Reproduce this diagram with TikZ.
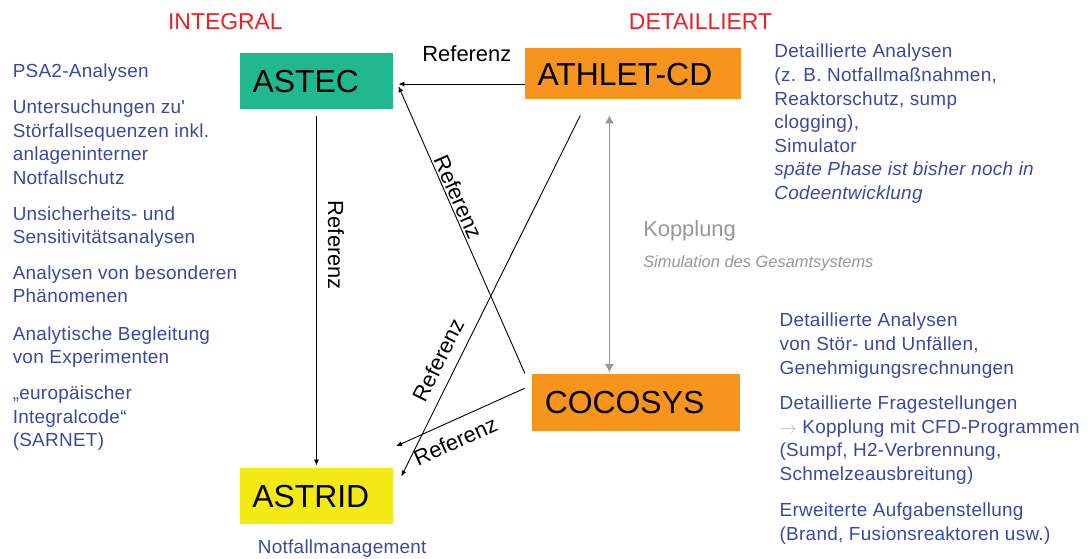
\documentclass[tikz,border=0pt]{standalone}
\usepackage{fontspec}
\setmainfont{Liberation Sans}
\newfontfamily\blaufont{Liberation Sans}[LetterSpace=1.5]
\usepackage{xcolor}
\usepackage{tikz}
\usetikzlibrary{arrows.meta, positioning}

\definecolor{astecgruen}{RGB}{34,184,143}
\definecolor{codeorange}{RGB}{247,148,30}
\definecolor{astridgelb}{RGB}{242,234,18}
\definecolor{titelrot}{RGB}{240,30,35}
\definecolor{textblau}{RGB}{58,72,162}
\definecolor{pfeilblau}{RGB}{170,176,215}
\definecolor{kopplgrau}{RGB}{150,150,150}

\begin{document}
\begin{tikzpicture}[x=1bp,y=-1bp,->,>={Latex[length=6bp,width=5bp]},line width=0.9bp,
    codebox/.style={inner xsep=12.5bp, inner ysep=0bp, align=left,
      font=\fontsize{32}{38}\selectfont, text height=23bp, text depth=0bp},
    titel/.style={text=titelrot, font=\fontsize{23}{27}\selectfont, anchor=base, inner sep=0bp},
    blau/.style={text=textblau, font=\blaufont\fontsize{19}{23.7}\selectfont, align=left,
      anchor=base west, inner sep=0bp},
    reftext/.style={font=\fontsize{22}{26}\selectfont, text=black, inner sep=2bp}]
\useasboundingbox (0,0) rectangle (1089,559);

\node[codebox, fill=astecgruen, text width=128bp, minimum height=55.7bp] (astec) at (316.5,81.2) {ASTEC};
\node[codebox, fill=codeorange, text width=191bp, minimum height=51bp] (athlet) at (633,73.8) {ATHLET-CD};
\node[codebox, fill=codeorange, text width=182.7bp, minimum height=56.7bp] (cocosys) at (636.2,402.3) {COCOSYS};
\node[codebox, fill=astridgelb, text width=128.3bp, minimum height=56.6bp, below=357.7bp of astec] (astrid) {ASTRID};

\node[titel] (integral) at (225.4,29.3) {INTEGRAL};
\node[titel] (detailliert) at (700.5,29.3) {DETAILLIERT};

\node[blau] (psa) at (12.3,77.3) {PSA2-Analysen};
\node[blau] (stoerfall) at (12.3,184.4) {Untersuchungen zu'\\Störfallsequenzen inkl.\\anlageninterner\\Notfallschutz};
\node[blau] (unsicher) at (12.3,243.7) {Unsicherheits- und\\Sensitivitätsanalysen};
\node[blau] (phaenomen) at (12.3,302.7) {Analysen von besonderen\\Phänomenen};
\node[blau] (experiment) at (12.3,363.7) {Analytische Begleitung\\von Experimenten};
\node[blau] (sarnet) at (12.3,446.7) {„europäischer\\Integralcode“\\(SARNET)};
\node[blau, below=14.8bp of astrid, xshift=25.7bp] (notfall) {Notfallmanagement};

\node[blau] (athlettext) at (774,199.5) {Detaillierte Analysen\\(z. B. Notfallmaßnahmen,\\Reaktorschutz, sump\\clogging),\\Simulator\\{\itshape späte Phase ist bisher noch in}\\{\itshape Codeentwicklung}};
\node[blau] (unfall) at (779.2,374.1) {Detaillierte Analysen\\von Stör- und Unfällen,\\Genehmigungsrechnungen};
\node[blau] (cfd) at (779.2,480.4) {Detaillierte Fragestellungen\\{\color{pfeilblau}$\rightarrow$} Kopplung mit CFD-Programmen\\(Sumpf, H2-Verbrennung,\\Schmelzeausbreitung)};
\node[blau] (brand) at (779.2,540.4) {Erweiterte Aufgabenstellung\\(Brand, Fusionsreaktoren usw.)};

\node[text=kopplgrau, font=\fontsize{22}{26}\selectfont, anchor=base west, inner sep=0bp] (kopplung) at (642.8,236.7) {Kopplung};
\node[text=kopplgrau, font=\itshape\fontsize{16.5}{20}\selectfont, anchor=base west, inner sep=0bp] (gesamt) at (642.8,267.7) {Simulation des Gesamtsystems};

\path[->]
  ([yshift=-10.2bp]athlet.west) edge[shorten >=5bp] node[pos=0.44, above=20bp, reftext] {Referenz} ([yshift=-10.2bp]athlet.west -| astec.east)
  (astec.south) edge[shorten <=6.7bp, shorten >=1.7bp] node[pos=0.38, rotate=-90, anchor=south, reftext, inner sep=11bp] {Referenz} (astrid.north)
  ([xshift=-7bp]cocosys.north west) edge node[pos=0.6, sloped, anchor=south, reftext, inner sep=1.5bp] {Referenz} ([xshift=5bp,yshift=-5bp]astec.east)
  ([xshift=-52.7bp,yshift=-15.7bp]athlet.south) edge node[pos=0.7, sloped, anchor=south, reftext, inner sep=10bp] {Referenz} ([xshift=7.7bp,yshift=-9.3bp]astrid.north east)
  ([xshift=-7.3bp,yshift=14bp]cocosys.west) edge node[pos=0.6, sloped, anchor=north, reftext, inner sep=11bp] {Referenz} ([xshift=2.4bp,yshift=21bp]astrid.north east);

\draw[<->, draw=kopplgrau, >={Latex[length=8bp,width=9bp]}, shorten <=15.7bp, shorten >=1.3bp]
  ([xshift=-23.6bp]athlet.south) -- ([xshift=-23.6bp]athlet.south |- cocosys.north);
\end{tikzpicture}
\end{document}
